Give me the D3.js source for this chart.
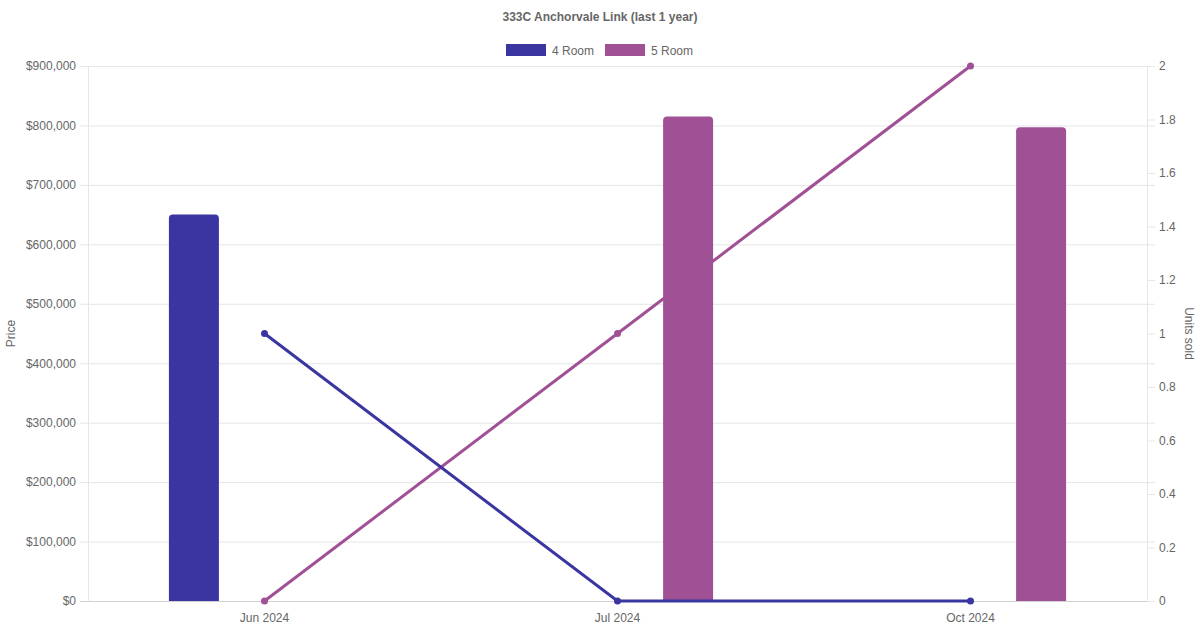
<!DOCTYPE html>
<html>
<head>
<meta charset="utf-8">
<script src="https://cdn.jsdelivr.net/npm/d3@7"></script>
<style>
  body { margin: 0; background: #fff; }
  svg text { font-family: "Liberation Sans", Arial, sans-serif; fill: #666; }
</style>
</head>
<body>
<script>
// chart data
const months = ["Jun 2024", "Jul 2024", "Oct 2024"];
const seriesNames = ["4 Room", "5 Room"];
const colors = ["#3a35a0", "#a05094"];
const price4 = [650000, null, null];
const price5 = [null, 815000, 797000];
const units4 = [1, 0, 0];
const units5 = [0, 1, 2];
const priceTicks = [0, 100000, 200000, 300000, 400000, 500000, 600000, 700000, 800000, 900000];
const unitTicks = [0, 0.2, 0.4, 0.6, 0.8, 1, 1.2, 1.4, 1.6, 1.8, 2];

const W = 1200, H = 630;
const pLeft = 88, pRight = 1147, pTop = 66, pBottom = 601;

var svg = d3.select("body").append("svg").attr("width", W).attr("height", H);

let x = d3.scaleBand().domain(months).range([pLeft, pRight]);
let yP = d3.scaleLinear().domain([0, 900000]).range([pBottom, pTop]);
let yU = d3.scaleLinear().domain([0, 2]).range([pBottom, pTop]);

// grid
svg.append("g").selectAll("line")
  .data(priceTicks)
  .enter()
  .append("line")
  .attr("x1", pLeft - 8).attr("x2", pRight + 8)
  .attr("y1", d => yP(d) + 0.5).attr("y2", d => yP(d) + 0.5)
  .attr("stroke", d => d == 0 ? "#d0d0d0" : "#e6e6e6");

[pLeft, pRight].forEach(function(xx){
  svg.append("line")
    .attr("x1", xx + 0.5).attr("x2", xx + 0.5)
    .attr("y1", pTop).attr("y2", pBottom + 0.5)
    .attr("stroke", "#e6e6e6");
});

// left axis
let axL = d3.axisLeft(yP).tickValues(priceTicks).tickSize(0).tickPadding(12)
  .tickFormat(d => "$" + d3.format(",")(d));
svg.append("g").attr("transform", "translate(" + pLeft + ",0)").call(axL)
  .call(g => g.select(".domain").remove())
  .selectAll("text").attr("font-size", 12).style("fill", "#666");

// right axis
let axR = d3.axisRight(yU).tickValues(unitTicks).tickSize(8).tickPadding(4)
  .tickFormat(d => d3.format("")(d));
svg.append("g").attr("transform", "translate(" + pRight + ",0)").call(axR)
  .call(g => g.select(".domain").remove())
  .call(g => g.selectAll("line").attr("stroke", "#e6e6e6"))
  .selectAll("text").attr("font-size", 12).style("fill", "#666");

// bottom axis
let axB = d3.axisBottom(x).tickSize(0).tickPadding(12);
svg.append("g").attr("transform", "translate(0," + pBottom + ")").call(axB)
  .call(g => g.select(".domain").remove())
  .selectAll("text").attr("font-size", 12).style("fill", "#666");

// axis titles
svg.append("text").text("Price")
  .attr("transform", "translate(15," + ((pTop + pBottom) / 2) + ") rotate(-90)")
  .attr("text-anchor", "middle").attr("font-size", 12);
svg.append("text").text("Units sold")
  .attr("transform", "translate(1185," + ((pTop + pBottom) / 2) + ") rotate(90)")
  .attr("text-anchor", "middle").attr("font-size", 12);

// bars
let slot = x.bandwidth() * 0.8 / 2;
let barW = 50, rad = 4;
function barPath(cx, y0, y1) {
  let xl = cx - barW / 2, xr = cx + barW / 2;
  return "M" + xl + "," + y0 + "V" + (y1 + rad) + "Q" + xl + "," + y1 + " " + (xl + rad) + "," + y1 +
    "H" + (xr - rad) + "Q" + xr + "," + y1 + " " + xr + "," + (y1 + rad) + "V" + y0 + "Z";
}
[price4, price5].forEach(function(vals, s){
  let data = months.map((m, i) => ({m: m, v: vals[i]})).filter(d => d.v != null);
  svg.append("g").selectAll("path")
    .data(data)
    .enter()
    .append("path")
    .attr("fill", colors[s])
    .attr("d", d => barPath(x(d.m) + x.bandwidth() / 2 + (s - 0.5) * slot, yP(0), yP(d.v)));
});

// lines
[units5, units4].forEach(function(vals, k){
  let s = k == 0 ? 1 : 0;
  let pts = months.map((m, i) => [x(m) + x.bandwidth() / 2, yU(vals[i])]);
  svg.append("path")
    .attr("d", d3.line()(pts))
    .attr("fill", "none")
    .attr("stroke", colors[s])
    .attr("stroke-width", 3);
  svg.append("g").selectAll("circle")
    .data(pts)
    .enter()
    .append("circle")
    .attr("cx", d => d[0]).attr("cy", d => d[1]).attr("r", 3.5)
    .attr("fill", colors[s]);
});

// title
svg.append("text").text("333C Anchorvale Link (last 1 year)")
  .attr("x", W / 2).attr("y", 21).attr("text-anchor", "middle")
  .attr("font-size", 12).attr("font-weight", "bold");

// legend
let legX = [506, 605];
seriesNames.forEach(function(name, i){
  svg.append("rect").attr("x", legX[i]).attr("y", 44).attr("width", 40).attr("height", 12)
    .attr("fill", colors[i]);
  svg.append("text").text(name).attr("x", legX[i] + 46).attr("y", 54.5)
    .attr("font-size", 12);
});
</script>
</body>
</html>
